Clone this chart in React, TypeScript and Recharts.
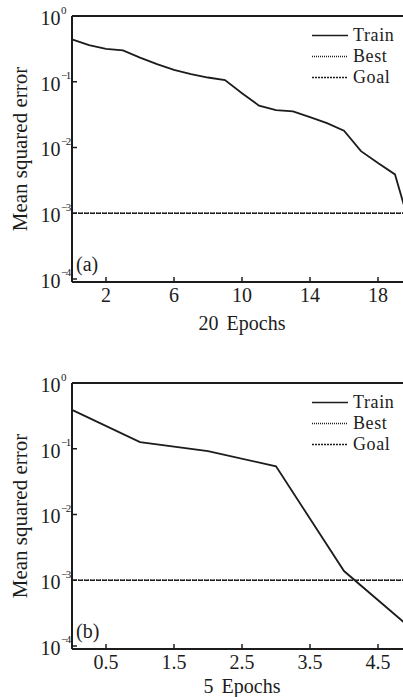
import React from 'react';
import { LineChart, Line, XAxis, YAxis, ReferenceLine, Legend } from 'recharts';

// ---- data ----
const epochsA = [0, 1, 2, 3, 4, 5, 6, 7, 8, 9, 10, 11, 12, 13, 14, 15, 16, 17, 18, 19, 20];
const trainA = [0.44, 0.36, 0.316, 0.3, 0.233, 0.185, 0.152, 0.131, 0.116, 0.106, 0.067, 0.0433, 0.037, 0.0355, 0.029, 0.0235, 0.018, 0.0088, 0.0058, 0.0039, 0.0005];
const xTicksA = [2, 6, 10, 14, 18];

const epochsB = [0, 1, 2, 3, 4, 5];
const trainB = [0.39, 0.126, 0.092, 0.054, 0.00138, 0.00018];
const xTicksB = [0.5, 1.5, 2.5, 3.5, 4.5];

const bestValue = 0.001;
const goalValue = 0.001;
const yTicks = [1, 0.1, 0.01, 0.001, 0.0001];
const seriesNames = ['Train', 'Best', 'Goal'];
const panelTags = ['(a)', '(b)'];
const xLabels = ['20 Epochs', '5 Epochs'];
const yLabel = 'Mean squared error';

// ---- styles ----
const FONT = '"Liberation Serif", "Times New Roman", Times, serif';
const INK = '#1c1c1c';
const txt = { fontFamily: FONT, fill: INK } as React.CSSProperties;
const seriesStyle: Record<string, { dash?: string; width: number }> = {
  Train: { width: 1.8 },
  Best: { dash: '1 1', width: 1.3 },
  Goal: { dash: '2 1', width: 1.3 },
};

const buildRows = (epochs: number[], train: number[]) =>
  epochs.map((e, i) => ({ epoch: e, Train: train[i], Best: bestValue, Goal: goalValue }));

const YTick = (props: any) => {
  const { x, y, payload } = props;
  const e = Math.round(Math.log10(payload.value));
  const sup = e < 0 ? '\u2212' + -e : String(e);
  return (
    <g>
      <line x1={x + 11} x2={x + 16} y1={y} y2={y} stroke={INK} strokeWidth={1.5} />
      <text x={x - 0.5} y={y + 9} textAnchor="end" style={{ ...txt, fontSize: 20 }}>10</text>
      <text x={x} y={y - 2.5} textAnchor="start" style={{ ...txt, fontSize: 11, letterSpacing: -1.5 }}>{sup}</text>
    </g>
  );
};

const XTick = (props: any) => {
  const { x, y, payload } = props;
  return (
    <g>
      <line x1={x} x2={x} y1={y - 20} y2={y - 25} stroke={INK} strokeWidth={1.5} />
      <text x={x} y={y} textAnchor="middle" style={{ ...txt, fontSize: 20 }}>{payload.value}</text>
    </g>
  );
};

const LegendBox = () => (
  <div style={{ fontFamily: FONT, fontSize: 18, color: INK }}>
    {seriesNames.map((n) => (
      <div key={n} style={{ display: 'flex', alignItems: 'center', height: 21 }}>
        <svg width={38} height={21} style={{ display: 'block' }}>
          <line x1={1} x2={37} y1={10.5} y2={10.5} stroke={INK} strokeWidth={1.5} strokeDasharray={seriesStyle[n].dash} />
        </svg>
        <span style={{ marginLeft: 4, lineHeight: '21px', letterSpacing: 0.6 }}>{n}</span>
      </div>
    ))}
  </div>
);

const Panel = ({ idx, epochs, train, xTicks, xMax, labelDy }: any) => {
  const rows = buildRows(epochs, train);
  return (
    <div style={{ position: 'relative', width: 420, height: 340 }}>
      <LineChart width={420} height={340} data={rows} margin={{ top: 16, right: 8, bottom: 0, left: 0 }}>
        <XAxis
          dataKey="epoch"
          type="number"
          domain={[0, xMax]}
          ticks={xTicks}
          height={58}
          tickSize={0}
          tickMargin={20}
          tickLine={false}
          axisLine={{ stroke: INK, strokeWidth: 2 }}
          tick={<XTick />}
          interval={0}
          label={(p: any) => {
            const vb = p.viewBox || {};
            return (
              <text x={vb.x + vb.width / 2} y={vb.y + labelDy} textAnchor="middle" style={{ ...txt, fontSize: 20, wordSpacing: 3 }}>
                {xLabels[idx]}
              </text>
            );
          }}
        />
        <YAxis
          type="number"
          scale="log"
          domain={[9e-5, 1]}
          ticks={yTicks}
          width={72}
          tickSize={0}
          tickMargin={11}
          tickLine={false}
          axisLine={{ stroke: INK, strokeWidth: 2 }}
          tick={<YTick />}
          interval={0}
          allowDataOverflow
          label={(p: any) => {
            const vb = p.viewBox || {};
            const cy = vb.y + vb.height / 2;
            return (
              <text transform={`translate(27, ${cy}) rotate(-90)`} textAnchor="middle" style={{ ...txt, fontSize: 21 }}>
                {yLabel}
              </text>
            );
          }}
        />
        <ReferenceLine y={1} stroke={INK} strokeWidth={2} />
        <ReferenceLine x={xMax} stroke={INK} strokeWidth={2} />
        {seriesNames.map((n) => (
          <Line
            key={n}
            dataKey={n}
            type="linear"
            stroke={INK}
            strokeWidth={seriesStyle[n].width}
            strokeDasharray={seriesStyle[n].dash}
            dot={false}
            activeDot={false}
            isAnimationActive={false}
          />
        ))}
        <Legend
          layout="vertical"
          align="center"
          verticalAlign="middle"
          content={<LegendBox />}
          wrapperStyle={{ left: 311, top: 24.5, width: 'auto', height: 'auto' }}
        />
      </LineChart>
      <svg width={420} height={340} style={{ position: 'absolute', left: 0, top: 0, pointerEvents: 'none' }}>
        <text x={76} y={271} style={{ ...txt, fontSize: 20 }}>{panelTags[idx]}</text>
      </svg>
    </div>
  );
};

export default function App() {
  return (
    <div style={{ position: 'absolute', left: 0, top: 0, width: 403, height: 697, overflow: 'hidden', background: '#fff' }}>
      <div style={{ position: 'absolute', left: 0, top: 0 }}>
        <Panel idx={0} epochs={epochsA} train={trainA} xTicks={xTicksA} xMax={20} labelDy={48} />
      </div>
      <div style={{ position: 'absolute', left: 0, top: 367 }}>
        <Panel idx={1} epochs={epochsB} train={trainB} xTicks={xTicksB} xMax={5} labelDy={44} />
      </div>
    </div>
  );
}
